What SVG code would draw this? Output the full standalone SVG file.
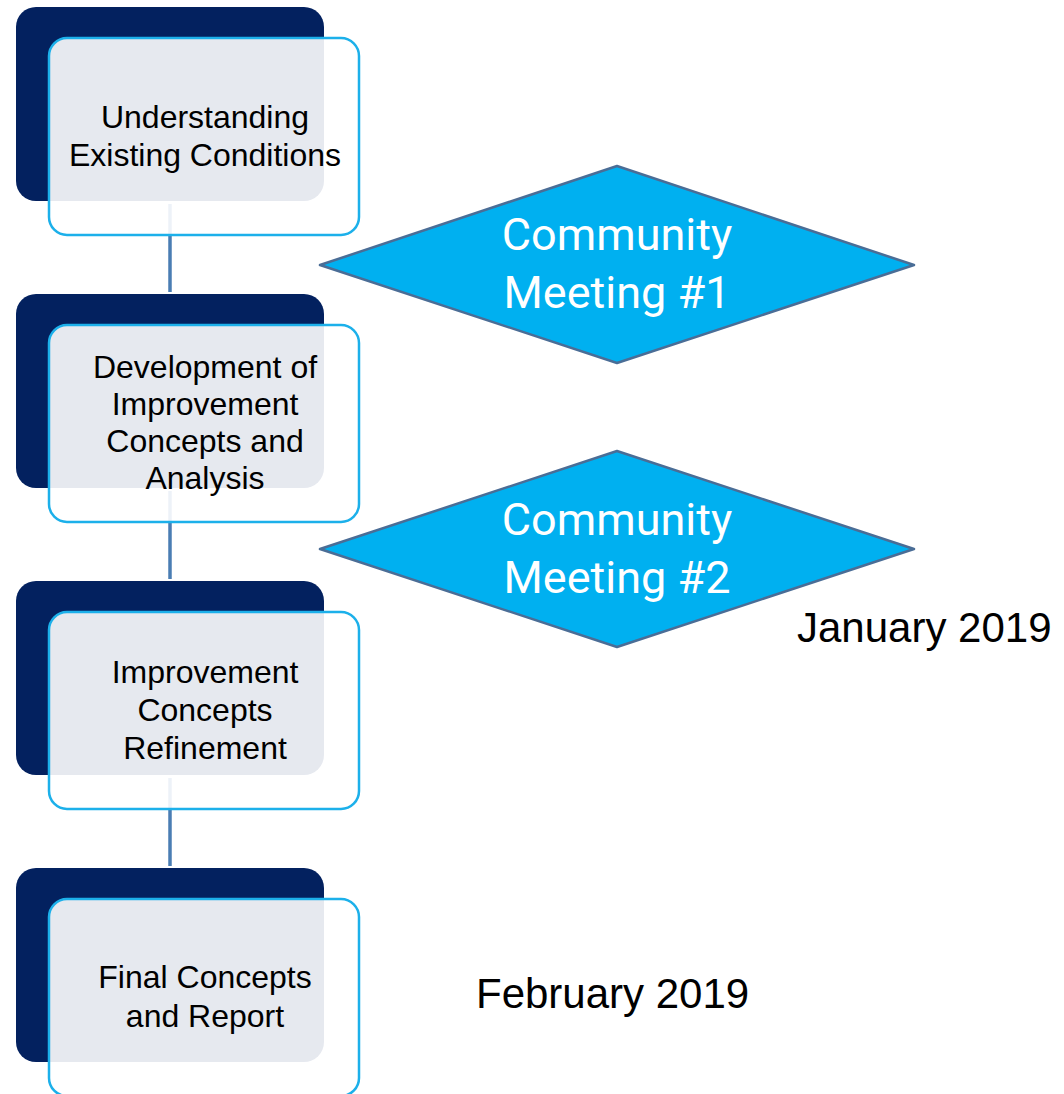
<svg xmlns="http://www.w3.org/2000/svg" width="1064" height="1094" viewBox="0 0 1064 1094">
<style>
.back{fill:#03215f;}
.front{fill:#ffffff;fill-opacity:0.9;stroke:#1cb0ea;stroke-width:2.5;}
.conn{stroke:#4a7db3;stroke-width:3.5;fill:none;}
.dia{fill:#00b0f0;stroke:#4a6d96;stroke-width:2.5;stroke-linejoin:round;}
.nt{font-family:"Liberation Sans",Arial,sans-serif;font-size:32px;fill:#000;text-anchor:middle;}
.dt{font-family:Roboto,"Liberation Sans",sans-serif;font-size:45px;fill:#fff;text-anchor:middle;}
.lab{font-family:"Liberation Sans",Arial,sans-serif;font-size:42px;fill:#000;}
</style>
<rect width="1064" height="1094" fill="#fff"/>
<g id="connectors">
<line class="conn" x1="170" y1="204" x2="170" y2="292"/>
<line class="conn" x1="170" y1="491" x2="170" y2="579"/>
<line class="conn" x1="170" y1="778" x2="170" y2="866"/>
</g>
<g id="node1">
<rect class="back" x="16" y="7" width="308" height="194" rx="20"/>
<rect class="front" x="49" y="38" width="310" height="197" rx="18"/>
<text class="nt" x="205" y="128">Understanding</text>
<text class="nt" x="205" y="166">Existing Conditions</text>
</g>
<g id="node2">
<rect class="back" x="16" y="294" width="308" height="194" rx="20"/>
<rect class="front" x="49" y="325" width="310" height="197" rx="18"/>
<text class="nt" x="205" y="378">Development of</text>
<text class="nt" x="205" y="415">Improvement</text>
<text class="nt" x="205" y="452">Concepts and</text>
<text class="nt" x="205" y="489">Analysis</text>
</g>
<g id="node3">
<rect class="back" x="16" y="581" width="308" height="194" rx="20"/>
<rect class="front" x="49" y="612" width="310" height="197" rx="18"/>
<text class="nt" x="205" y="683">Improvement</text>
<text class="nt" x="205" y="721">Concepts</text>
<text class="nt" x="205" y="759">Refinement</text>
</g>
<g id="node4">
<rect class="back" x="16" y="868" width="308" height="194" rx="20"/>
<rect class="front" x="49" y="899" width="310" height="197" rx="18"/>
<text class="nt" x="205" y="988">Final Concepts</text>
<text class="nt" x="205" y="1027">and Report</text>
</g>
<g id="meeting1">
<polygon class="dia" points="320,265 617,166 914,265 617,363"/>
<text class="dt" x="617" y="250">Community</text>
<text class="dt" x="617" y="308">Meeting #1</text>
</g>
<g id="meeting2">
<polygon class="dia" points="320,549 617,451 914,549 617,647"/>
<text class="dt" x="617" y="535">Community</text>
<text class="dt" x="617" y="593">Meeting #2</text>
</g>
<g id="labels">
<text class="lab" x="797" y="642">January 2019</text>
<text class="lab" x="476" y="1008">February 2019</text>
</g>
</svg>
